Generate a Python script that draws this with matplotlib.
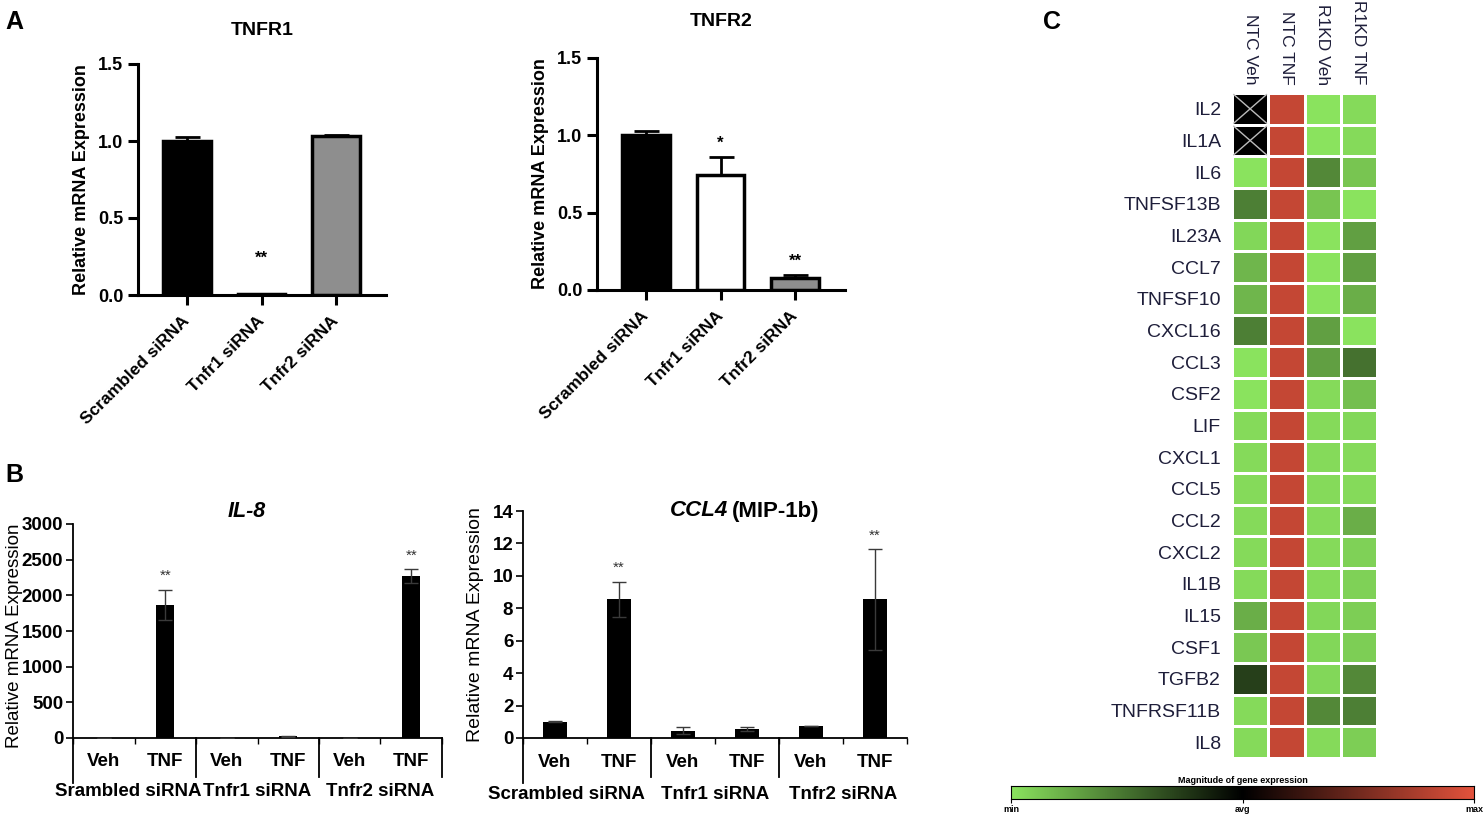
import numpy as np
import matplotlib
matplotlib.use('Agg')
import matplotlib.pyplot as plt
from matplotlib.colors import LinearSegmentedColormap

plt.rcParams['font.family'] = ['Liberation Sans', 'DejaVu Sans']

# ---------------- data ----------------
a_cats = ['Scrambled siRNA', 'Tnfr1 siRNA', 'Tnfr2 siRNA']
tnfr1_vals = [1.0, 0.005, 1.03]
tnfr1_err = [0.025, 0.0, 0.012]
tnfr1_stars = ['', '**', '']
tnfr2_vals = [1.0, 0.745, 0.075]
tnfr2_err = [0.025, 0.115, 0.025]
tnfr2_stars = ['', '*', '**']
a_colors = ['black', 'white', '#8e8e8e']

b_conds = ['Veh', 'TNF', 'Veh', 'TNF', 'Veh', 'TNF']
il8_groups = ['Srambled siRNA', 'Tnfr1 siRNA', 'Tnfr2 siRNA']
ccl4_groups = ['Scrambled siRNA', 'Tnfr1 siRNA', 'Tnfr2 siRNA']
il8_vals = [2, 1870, 2, 22, 2, 2270]
il8_err = [0, 210, 0, 10, 0, 100]
il8_stars = ['', '**', '', '', '', '**']
ccl4_vals = [1.0, 8.55, 0.45, 0.55, 0.72, 8.55]
ccl4_err = [0.03, 1.1, 0.22, 0.12, 0.0, 3.1]
ccl4_stars = ['', '**', '', '', '', '**']

genes = ['IL2', 'IL1A', 'IL6', 'TNFSF13B', 'IL23A', 'CCL7', 'TNFSF10', 'CXCL16',
         'CCL3', 'CSF2', 'LIF', 'CXCL1', 'CCL5', 'CCL2', 'CXCL2', 'IL1B', 'IL15',
         'CSF1', 'TGFB2', 'TNFRSF11B', 'IL8']
samples = ['NTC Veh', 'NTC TNF', 'R1KD Veh', 'R1KD TNF']
# 0 = min (green), 0.5 = avg (black), 1 = max (red); nan = not detected
heat = np.array([
    [np.nan, 0.93, 0.00, 0.02],
    [np.nan, 0.93, 0.00, 0.02],
    [0.00, 0.93, 0.20, 0.07],
    [0.22, 0.93, 0.07, 0.00],
    [0.03, 0.93, 0.00, 0.15],
    [0.10, 0.93, 0.00, 0.15],
    [0.10, 0.93, 0.00, 0.12],
    [0.22, 0.93, 0.15, 0.00],
    [0.00, 0.93, 0.15, 0.25],
    [0.00, 0.93, 0.02, 0.08],
    [0.02, 0.93, 0.02, 0.03],
    [0.02, 0.93, 0.02, 0.02],
    [0.02, 0.93, 0.02, 0.02],
    [0.02, 0.93, 0.02, 0.12],
    [0.02, 0.93, 0.02, 0.04],
    [0.02, 0.93, 0.02, 0.04],
    [0.12, 0.93, 0.03, 0.05],
    [0.06, 0.93, 0.03, 0.05],
    [0.36, 0.93, 0.03, 0.20],
    [0.02, 0.93, 0.20, 0.22],
    [0.02, 0.93, 0.02, 0.05],
])

W, H = 1483, 818
fig = plt.figure(figsize=(W / 100, H / 100), dpi=100)


def box(l, r, t, b):
    return [l / W, 1 - b / H, (r - l) / W, (b - t) / H]


def bold_ticks(ax):
    for lab in ax.get_xticklabels() + ax.get_yticklabels():
        lab.set_fontweight('bold')


# ---------------- panel A ----------------
def panel_a(rect, title, vals, err, stars, title_y):
    ax = fig.add_axes(rect)
    x = np.arange(len(vals))
    ax.bar(x, vals, width=0.64, color=a_colors, edgecolor='black', linewidth=2.5, zorder=2)
    ax.errorbar(x, vals, yerr=[np.zeros(len(err)), err], fmt='none', ecolor='black',
                elinewidth=2, capsize=9, capthick=2, zorder=1)
    for xi, v, e, s in zip(x, vals, err, stars):
        if s:
            y = v + e + 0.04 if v > 0.02 else 0.19
            ax.text(xi, y, s, ha='center', va='bottom', fontsize=12, fontweight='bold')
    ax.set_xlim(-0.66, 2.67)
    ax.set_ylim(0, 1.5)
    ax.set_yticks([0, 0.5, 1.0, 1.5])
    ax.set_yticklabels(['0.0', '0.5', '1.0', '1.5'])
    ax.set_xticks(x)
    ax.set_xticklabels(a_cats, rotation=45, ha='right', va='center', rotation_mode='anchor')
    for sp in ['top', 'right']:
        ax.spines[sp].set_visible(False)
    for sp in ['left', 'bottom']:
        ax.spines[sp].set_linewidth(2.2)
    ax.tick_params(axis='both', width=2.2, length=7, labelsize=13)
    ax.tick_params(axis='x', labelsize=12.5, pad=10)
    bold_ticks(ax)
    ax.set_ylabel('Relative mRNA Expression', fontsize=13, fontweight='bold', labelpad=6)
    ax.set_title(title, fontsize=14, fontweight='bold', y=title_y)
    return ax


panel_a(box(138, 386, 64, 295), 'TNFR1', tnfr1_vals, tnfr1_err, tnfr1_stars, 1.09)
panel_a(box(597, 845, 58, 290), 'TNFR2', tnfr2_vals, tnfr2_err, tnfr2_stars, 1.1)


# ---------------- panel B ----------------
def panel_b(rect, vals, err, stars, groups, ymax, ystep, bw, right_line, drop, first_shift):
    ax = fig.add_axes(rect)
    x = np.arange(len(vals))
    ax.bar(x, vals, width=bw, color='black', zorder=2)
    ax.errorbar(x, vals, yerr=err, fmt='none', ecolor='#3a3a3a', elinewidth=1,
                capsize=5, capthick=1, zorder=3)
    for xi, v, e, s in zip(x, vals, err, stars):
        if s:
            ax.text(xi, v + e + ymax * 0.03, s, ha='center', va='bottom', fontsize=11,
                    color='#333333')
    ax.set_xlim(-0.5, 5.5)
    ax.set_ylim(0, ymax)
    ax.set_yticks(np.arange(0, ymax + 1e-9, ystep))
    ax.set_xticks([])
    ax.set_xticks(np.arange(-0.5, 5.6, 1.0), minor=True)
    ax.tick_params(axis='x', which='minor', length=4, width=1, direction='out')
    ax.tick_params(axis='y', length=5, width=1.2, labelsize=13.5, pad=2)
    bold_ticks(ax)
    for sp in ['top', 'right']:
        ax.spines[sp].set_visible(False)
    for sp in ['left', 'bottom']:
        ax.spines[sp].set_linewidth(1.3)
    tr = ax.get_xaxis_transform()
    ax.plot([-0.5, -0.5], [0, -drop - 0.03], transform=tr, color='black', lw=1.3, clip_on=False)
    seps = [1.5, 3.5] + ([5.5] if right_line else [])
    for s in seps:
        ax.plot([s, s], [0, -drop], transform=tr, color='black', lw=1.3, clip_on=False)
    for xi, c in zip(x, b_conds):
        ax.text(xi, -0.11, c, transform=tr, ha='center', va='center', fontsize=13.5,
                fontweight='bold')
    for gi, g in enumerate(groups):
        gx = 2 * gi + 0.5 - (first_shift if gi == 0 else 0)
        ax.text(gx, -0.25, g, transform=tr, ha='center', va='center',
                fontsize=13.5, fontweight='bold')
    return ax


ax_il8 = panel_b(box(73, 442, 524, 738), il8_vals, il8_err, il8_stars, il8_groups,
                 3000, 500, 0.3, True, 0.18, 0.1)
ax_il8.set_ylabel('Relative mRNA Expression', fontsize=13.5)
ax_il8.yaxis.set_label_coords(-0.135, 0.48)
ax_il8.text(0.47, 1.06, 'IL-8', transform=ax_il8.transAxes, ha='center', va='center',
            fontsize=15.5, fontweight='bold', fontstyle='italic')

ax_ccl4 = panel_b(box(523, 907, 511, 738), ccl4_vals, ccl4_err, ccl4_stars, ccl4_groups,
                  14, 2, 0.39, False, 0.17, 0.32)
ax_ccl4.set_ylabel('Relative mRNA Expression', fontsize=14, labelpad=6)
ax_ccl4.text(0.535, 1.0, 'CCL4', transform=ax_ccl4.transAxes, ha='right', va='center',
             fontsize=16, fontweight='bold', fontstyle='italic')
ax_ccl4.text(0.545, 1.0, '(MIP-1b)', transform=ax_ccl4.transAxes, ha='left', va='center',
             fontsize=16, fontweight='bold')

# ---------------- panel C ----------------
cmap = LinearSegmentedColormap.from_list('gbr', ['#8ae35e', '#000000', '#e2523c'])
cmap.set_bad('black')
axh = fig.add_axes(box(1232, 1377, 93, 758))
axh.pcolormesh(np.ma.masked_invalid(heat), cmap=cmap, vmin=0, vmax=1,
               edgecolors='white', linewidth=2)
for r, c in zip(*np.where(np.isnan(heat))):
    axh.plot([c + 0.05, c + 0.95], [r + 0.05, r + 0.95], color='#bbbbbb', lw=1)
    axh.plot([c + 0.05, c + 0.95], [r + 0.95, r + 0.05], color='#bbbbbb', lw=1)
axh.set_xlim(0, len(samples))
axh.set_ylim(len(genes), 0)
axh.set_yticks(np.arange(len(genes)) + 0.5)
axh.set_yticklabels(genes, fontsize=14, color='#1e1e3a')
axh.xaxis.tick_top()
axh.set_xticks(np.arange(len(samples)) + 0.5)
axh.set_xticklabels(samples, rotation=270, fontsize=12.5, color='#1e1e3a')
axh.tick_params(length=0)
axh.tick_params(axis='y', pad=8)
axh.tick_params(axis='x', pad=6)
for sp in axh.spines.values():
    sp.set_visible(False)

axc = fig.add_axes(box(1011, 1474, 786, 799))
axc.imshow(np.linspace(0, 1, 256)[None, :], cmap=cmap, aspect='auto', extent=(0, 1, 0, 1))
axc.set_xticks([0, 0.5, 1])
axc.set_xticklabels(['min', 'avg', 'max'], fontsize=6.5, fontweight='bold')
axc.set_yticks([])
axc.tick_params(axis='x', length=3, width=0.8, pad=1)
for sp in axc.spines.values():
    sp.set_linewidth(0.8)
axc.set_title('Magnitude of gene expression', fontsize=6.5, fontweight='bold', pad=2)

# panel letters
fig.text(14 / W, 1 - 22 / H, 'A', fontsize=18, fontweight='bold', ha='center', va='center')
fig.text(14 / W, 1 - 475 / H, 'B', fontsize=18, fontweight='bold', ha='center', va='center')
fig.text(1052 / W, 1 - 22 / H, 'C', fontsize=18, fontweight='bold', ha='center', va='center')

fig.savefig('out.png', dpi=100)
